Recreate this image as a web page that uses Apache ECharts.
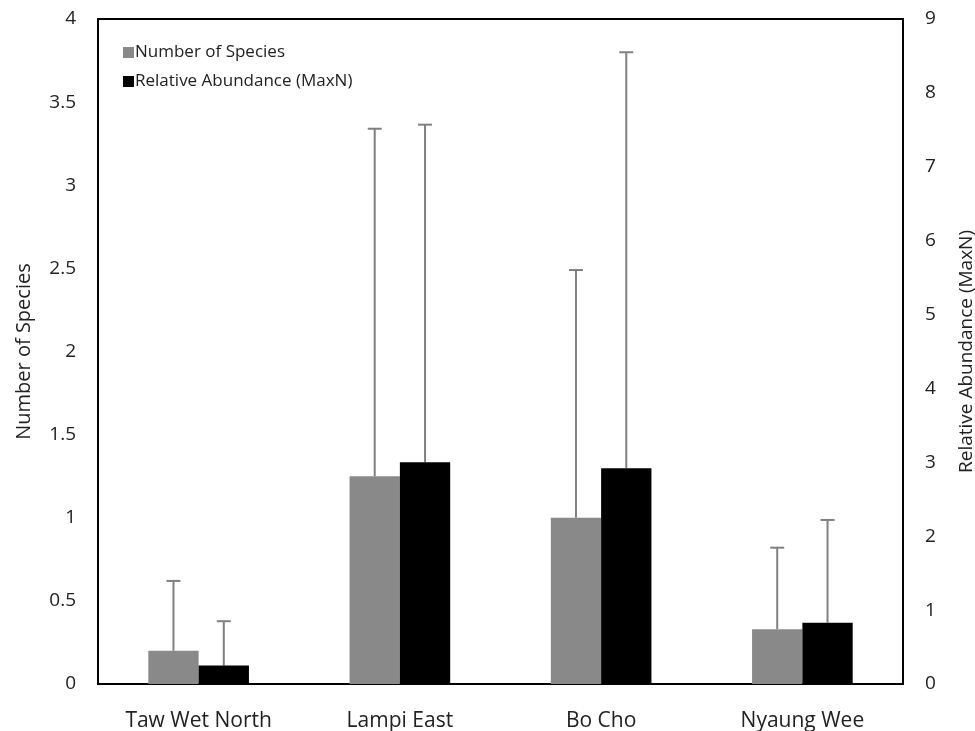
<!DOCTYPE html>
<html>
<head>
<meta charset="utf-8">
<script src="https://cdn.jsdelivr.net/npm/echarts@6/dist/echarts.min.js"></script>
<style>
  html, body { margin: 0; padding: 0; background: #fff; }
  #chart { width: 975px; height: 731px; }
</style>
</head>
<body>
<div id="chart"></div>
<script>
// sites on the x axis
const sites = ["Taw Wet North", "Lampi East", "Bo Cho", "Nyaung Wee"];
// mean number of species (left axis) and upper error
const speciesMean = [0.2, 1.25, 1.0, 0.33];
const speciesErr = [0.42, 2.09, 1.49, 0.49];
// mean relative abundance MaxN (right axis) and upper error
const maxnMean = [0.25, 3.0, 2.92, 0.83];
const maxnErr = [0.6, 4.57, 5.63, 1.39];

const FONT = "Open Sans";

let chart = echarts.init(document.getElementById("chart"));

// draws the upper half of an error bar, shifted to sit on its bar
function errorBar(offsetSign) {
  return function (params, api) {
    let idx = api.value(0);
    let top = api.coord([idx, api.value(1) + api.value(2)]);
    let base = api.coord([idx, api.value(1)]);
    let barW = api.size([1, 0])[0] * 0.25;
    let x = top[0] + offsetSign * barW / 2;
    let style = { stroke: "#808080", lineWidth: 2 };
    return {
      type: "group",
      children: [
        { type: "line", shape: { x1: x, y1: base[1], x2: x, y2: top[1] }, style: style },
        { type: "line", shape: { x1: x - 7, y1: top[1], x2: x + 7, y2: top[1] }, style: style }
      ]
    };
  };
}

let option = {
  animation: false,
  textStyle: { fontFamily: FONT },
  grid: {
    left: 98, right: 72, top: 19, bottom: 47,
    outerBoundsMode: "none",
    show: true, borderColor: "#000", borderWidth: 2
  },
  legend: {
    orient: "vertical",
    left: 118, top: 39,
    itemWidth: 11, itemHeight: 11, itemGap: 12,
    icon: "rect",
    textStyle: { fontSize: 17, color: "#222", fontFamily: FONT, padding: [0, 0, 0, -4] },
    data: ["Number of Species", "Relative Abundance (MaxN)"]
  },
  xAxis: {
    type: "category",
    data: sites,
    axisLine: { lineStyle: { color: "#000", width: 2 } },
    axisTick: { show: false },
    axisLabel: { fontSize: 21, color: "#222", margin: 27 }
  },
  yAxis: [
    {
      type: "value", min: 0, max: 4, interval: 0.5,
      name: "Number of Species", nameLocation: "middle", nameGap: 64,
      nameTextStyle: { fontSize: 20, color: "#222" },
      axisLine: { show: true, lineStyle: { color: "#000", width: 2 } },
      axisTick: { show: false },
      splitLine: { show: false },
      axisLabel: { fontSize: 19, color: "#222", margin: 22 }
    },
    {
      type: "value", min: 0, max: 9, interval: 1,
      name: "Relative Abundance (MaxN)", nameLocation: "middle", nameGap: 54,
      nameTextStyle: { fontSize: 19, color: "#222" },
      axisLine: { show: true, lineStyle: { color: "#000", width: 2 } },
      axisTick: { show: false },
      splitLine: { show: false },
      axisLabel: { fontSize: 19, color: "#222", margin: 22 }
    }
  ],
  series: [
    {
      name: "Number of Species", type: "bar", yAxisIndex: 0,
      data: speciesMean, barGap: "0%", barCategoryGap: "50%",
      itemStyle: { color: "#898989" }
    },
    {
      name: "Relative Abundance (MaxN)", type: "bar", yAxisIndex: 1,
      data: maxnMean,
      itemStyle: { color: "#000" }
    },
    {
      type: "custom", yAxisIndex: 0, z: 1,
      renderItem: errorBar(-1),
      data: speciesMean.map((v, i) => [i, v, speciesErr[i]])
    },
    {
      type: "custom", yAxisIndex: 1, z: 1,
      renderItem: errorBar(1),
      data: maxnMean.map((v, i) => [i, v, maxnErr[i]])
    }
  ]
};

chart.setOption(option);
</script>
</body>
</html>
